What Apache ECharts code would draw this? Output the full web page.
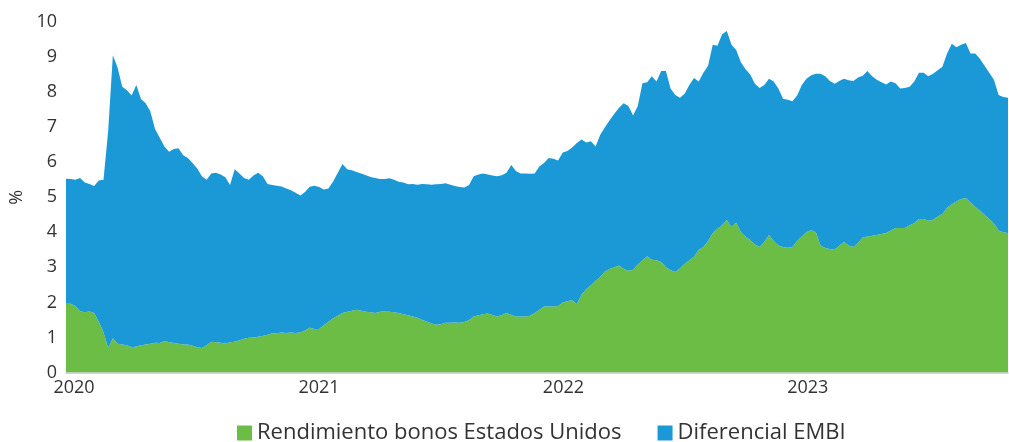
<!DOCTYPE html>
<html>
<head>
<meta charset="utf-8">
<script src="https://cdn.jsdelivr.net/npm/echarts@6/dist/echarts.min.js"></script>
<style>
  html, body { margin: 0; padding: 0; background: #fff; }
  #chart { width: 1009px; height: 442px; }
</style>
</head>
<body>
<div id="chart"></div>
<script>
// weekly observations, first one on 20 Dec 2019
const startDate = [2019, 11, 20];

// Rendimiento bonos Estados Unidos (%)
const rendimiento = [
  1.96, 1.96, 1.90, 1.75, 1.72, 1.74, 1.70, 1.45, 1.15, 0.70,
  0.98, 0.82, 0.80, 0.78, 0.72, 0.74, 0.78, 0.80, 0.82, 0.85,
  0.84, 0.90, 0.86, 0.84, 0.82, 0.80, 0.80, 0.76, 0.72, 0.70,
  0.78, 0.88, 0.86, 0.85, 0.82, 0.86, 0.88, 0.92, 0.96, 0.99,
  1.00, 1.02, 1.04, 1.08, 1.12, 1.12, 1.14, 1.13, 1.14, 1.13,
  1.14, 1.20, 1.28, 1.24, 1.24, 1.35, 1.45, 1.55, 1.62, 1.70,
  1.73, 1.76, 1.79, 1.76, 1.73, 1.72, 1.70, 1.73, 1.74, 1.73,
  1.72, 1.70, 1.66, 1.63, 1.60, 1.56, 1.50, 1.45, 1.40, 1.36,
  1.38, 1.42, 1.42, 1.43, 1.42, 1.44, 1.50, 1.60, 1.63, 1.66,
  1.68, 1.64, 1.60, 1.64, 1.70, 1.65, 1.60, 1.60, 1.60, 1.62,
  1.70, 1.79, 1.88, 1.88, 1.88, 1.90, 2.00, 2.03, 2.07, 1.95,
  2.22, 2.38, 2.48, 2.62, 2.73, 2.88, 2.95, 3.00, 3.05, 2.95,
  2.90, 2.93, 3.08, 3.20, 3.32, 3.22, 3.20, 3.15, 3.00, 2.92,
  2.87, 2.97, 3.10, 3.20, 3.30, 3.50, 3.58, 3.75, 3.98, 4.10,
  4.20, 4.35, 4.15, 4.28, 4.00, 3.88, 3.78, 3.65, 3.58, 3.72,
  3.92, 3.75, 3.62, 3.58, 3.56, 3.58, 3.75, 3.88, 4.00, 4.06,
  4.00, 3.62, 3.55, 3.52, 3.50, 3.62, 3.72, 3.62, 3.58, 3.70,
  3.85, 3.88, 3.90, 3.92, 3.95, 3.98, 4.05, 4.12, 4.12, 4.12,
  4.20, 4.26, 4.38, 4.38, 4.33, 4.36, 4.45, 4.52, 4.70, 4.80,
  4.88, 4.95, 4.98, 4.85, 4.72, 4.62, 4.50, 4.38, 4.25, 4.05,
  4.00, 3.98
];

// Diferencial EMBI (%), stacked over the yield
const embi = [
  3.57, 3.56, 3.60, 3.80, 3.70, 3.64, 3.62, 4.03, 4.35, 6.20,
  8.07, 7.88, 7.35, 7.27, 7.18, 7.46, 7.02, 6.88, 6.63, 6.10,
  5.86, 5.55, 5.44, 5.54, 5.58, 5.40, 5.32, 5.22, 5.10, 4.90,
  4.72, 4.80, 4.84, 4.80, 4.75, 4.49, 4.92, 4.76, 4.59, 4.51,
  4.62, 4.68, 4.56, 4.30, 4.23, 4.21, 4.17, 4.12, 4.06, 4.00,
  3.91, 3.95, 4.02, 4.09, 4.05, 3.87, 3.80, 3.90, 4.08, 4.25,
  4.07, 4.01, 3.93, 3.92, 3.90, 3.86, 3.85, 3.79, 3.78, 3.81,
  3.78, 3.74, 3.76, 3.74, 3.78, 3.80, 3.88, 3.92, 3.96, 4.01,
  4.00, 3.98, 3.94, 3.89, 3.87, 3.84, 3.85, 4.00, 4.02, 4.02,
  3.97, 3.98, 4.00, 3.99, 4.00, 4.27, 4.15, 4.08, 4.08, 4.05,
  3.98, 4.09, 4.10, 4.24, 4.22, 4.15, 4.28, 4.29, 4.35, 4.60,
  4.43, 4.18, 4.12, 3.83, 4.05, 4.12, 4.25, 4.38, 4.50, 4.73,
  4.70, 4.40, 4.52, 5.05, 4.96, 5.23, 5.10, 5.45, 5.60, 5.18,
  5.05, 4.87, 4.85, 5.00, 5.10, 4.80, 4.97, 5.00, 5.37, 5.22,
  5.45, 5.39, 5.20, 4.92, 4.85, 4.77, 4.72, 4.59, 4.54, 4.48,
  4.46, 4.55, 4.48, 4.23, 4.22, 4.16, 4.15, 4.32, 4.38, 4.42,
  4.52, 4.90, 4.90, 4.80, 4.74, 4.70, 4.66, 4.72, 4.74, 4.72,
  4.62, 4.72, 4.55, 4.43, 4.33, 4.24, 4.25, 4.13, 3.98, 4.00,
  3.95, 4.04, 4.17, 4.17, 4.12, 4.16, 4.17, 4.20, 4.40, 4.58,
  4.40, 4.40, 4.42, 4.25, 4.38, 4.33, 4.25, 4.17, 4.10, 3.87,
  3.86, 3.86
];

const yTicks = [0, 1, 2, 3, 4, 5, 6, 7, 8, 9, 10];

const fechas = rendimiento.map((_, i) =>
  new Date(startDate[0], startDate[1], startDate[2] + 7 * i).getTime()
);

const chart = echarts.init(document.getElementById('chart'));
const font = 'Open Sans';

chart.setOption({
  animation: false,
  textStyle: { fontFamily: font },
  grid: { left: 66, right: 1, top: 22, bottom: 69.5, containLabel: false, outerBoundsMode: 'none' },
  legend: {
    left: 232,
    top: 417,
    icon: 'rect',
    itemWidth: 15,
    itemHeight: 15,
    itemGap: 36,
    textStyle: { fontSize: 22, color: '#333', fontFamily: font },
    data: ['Rendimiento bonos Estados Unidos', 'Diferencial EMBI']
  },
  xAxis: {
    type: 'time',
    min: fechas[0],
    max: fechas[fechas.length - 1],
    minInterval: 365 * 24 * 3600 * 1000,
    axisLine: { lineStyle: { color: '#c8c8c8', width: 1.5 } },
    axisTick: { show: false },
    splitLine: { show: false },
    axisLabel: {
      color: '#333',
      fontSize: 18,
      margin: 6,
      showMinLabel: false,
      showMaxLabel: false,
      formatter: (v) => {
        const d = new Date(v);
        return d.getMonth() === 0 && d.getDate() === 1 ? String(d.getFullYear()) : '';
      }
    }
  },
  yAxis: {
    type: 'value',
    min: yTicks[0],
    max: yTicks[yTicks.length - 1],
    interval: 1,
    name: '%',
    nameLocation: 'middle',
    nameGap: 38,
    nameRotate: 90,
    nameTextStyle: { color: '#333', fontSize: 18 },
    axisLine: { show: false },
    axisTick: { show: false },
    splitLine: { show: false },
    axisLabel: { color: '#333', fontSize: 18, margin: 9 }
  },
  series: [
    {
      name: 'Rendimiento bonos Estados Unidos',
      type: 'line',
      stack: 'total',
      symbol: 'none',
      lineStyle: { width: 0 },
      areaStyle: { color: '#6bbd45', opacity: 1 },
      itemStyle: { color: '#6bbd45' },
      data: fechas.map((t, i) => [t, rendimiento[i]])
    },
    {
      name: 'Diferencial EMBI',
      type: 'line',
      stack: 'total',
      symbol: 'none',
      lineStyle: { width: 0 },
      areaStyle: { color: '#1b99d6', opacity: 1 },
      itemStyle: { color: '#1b99d6' },
      data: fechas.map((t, i) => [t, embi[i]])
    }
  ]
});
</script>
</body>
</html>
